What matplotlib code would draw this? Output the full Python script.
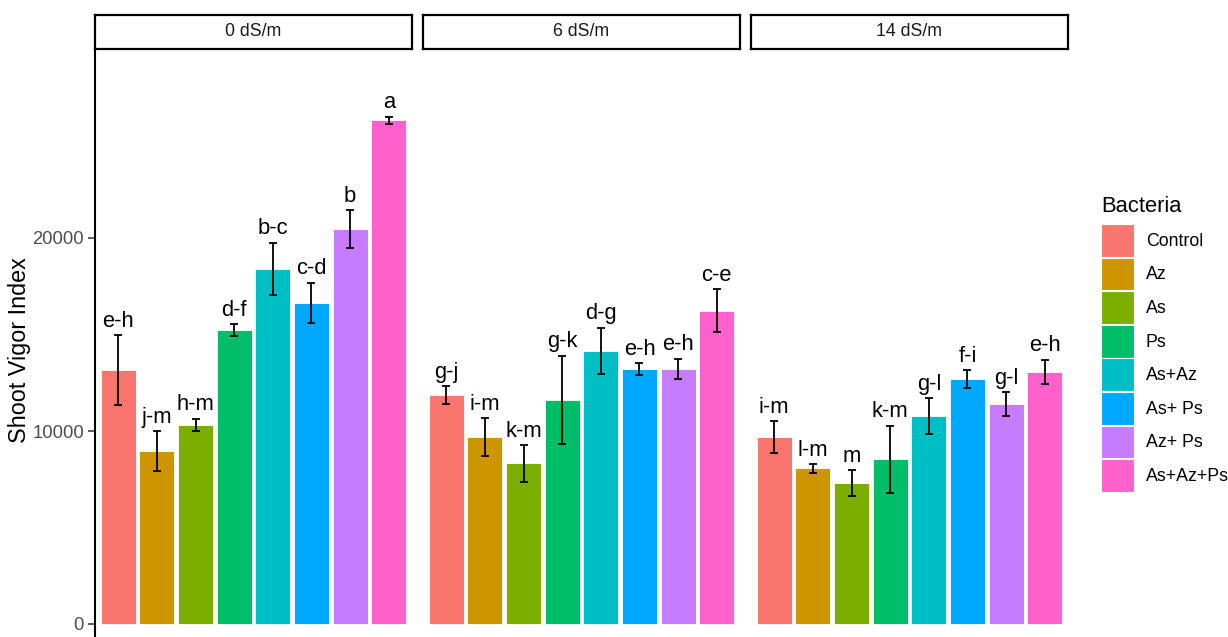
import matplotlib
matplotlib.use("Agg")
import matplotlib.pyplot as plt
from matplotlib.patches import Patch
import numpy as np

plt.rcParams['font.family'] = ['Liberation Sans', 'DejaVu Sans']

categories = ['Control', 'Az', 'As', 'Ps', 'As+Az', 'As+ Ps', 'Az+ Ps', 'As+Az+Ps']
salinity = ['0 dS/m', '6 dS/m', '14 dS/m']

means_0 = [13160, 8950, 10320, 15240, 18400, 16630, 20460, 26100]
se_0 = [1810, 1030, 320, 300, 1350, 1050, 970, 190]
letters_0 = ['e-h', 'j-m', 'h-m', 'd-f', 'b-c', 'c-d', 'b', 'a']

means_6 = [11870, 9680, 8320, 11620, 14150, 13220, 13220, 16230]
se_6 = [470, 980, 950, 2280, 1200, 300, 530, 1120]
letters_6 = ['g-j', 'i-m', 'k-m', 'g-k', 'd-g', 'e-h', 'e-h', 'c-e']

means_14 = [9680, 8060, 7300, 8530, 10760, 12700, 11410, 13070]
se_14 = [840, 220, 680, 1740, 930, 450, 610, 620]
letters_14 = ['i-m', 'l-m', 'm', 'k-m', 'g-l', 'f-i', 'g-l', 'e-h']

colors = ['#F8766D', '#CD9600', '#7CAE00', '#00BE67',
          '#00BFC4', '#00A9FF', '#C77CFF', '#FF61CC']

W, H = 1228, 637
fig = plt.figure(figsize=(W / 100, H / 100), dpi=100)

def px_rect(x0, y0, x1, y1):
    return [x0 / W, 1 - y1 / H, (x1 - x0) / W, (y1 - y0) / H]

panel_left = [95, 423, 751]
panel_w = 317
panel_top = 49
panel_bot = 660
zero_px = 624
px_per_unit = 193 / 10000
ymax = (zero_px - panel_top) / px_per_unit
ymin = -(panel_bot - zero_px) / px_per_unit

all_means = [means_0, means_6, means_14]
all_se = [se_0, se_6, se_14]
all_letters = [letters_0, letters_6, letters_14]

x = np.arange(len(categories))
for i, (lab, m, s, L) in enumerate(zip(salinity, all_means, all_se, all_letters)):
    ax = fig.add_axes(px_rect(panel_left[i], panel_top, panel_left[i] + panel_w, panel_bot))
    ax.bar(x, m, width=0.9, color=colors, edgecolor='white', linewidth=0.6, zorder=2)
    ax.errorbar(x, m, yerr=s, fmt='none', ecolor='black', elinewidth=1.3,
                capsize=2.9, capthick=1.3, zorder=3)
    for xi, mi, si, li in zip(x, m, s, L):
        ax.annotate(li, xy=(xi, mi + si), xytext=(0, 6), textcoords='offset points',
                    ha='center', va='baseline', fontsize=15.8, color='black')
    ax.set_xlim(-0.6, len(categories) - 0.4)
    ax.set_ylim(ymin, ymax)
    ax.set_xticks([])
    for sp in ['top', 'right', 'bottom']:
        ax.spines[sp].set_visible(False)
    if i == 0:
        ax.spines['left'].set_linewidth(1.5)
        ax.set_yticks([0, 10000, 20000])
        ax.tick_params(axis='y', length=5, width=1.1, color='#333333',
                       labelsize=13.3, labelcolor='#4D4D4D', pad=3)
    else:
        ax.spines['left'].set_visible(False)
        ax.set_yticks([])
    sax = fig.add_axes(px_rect(panel_left[i], 15, panel_left[i] + panel_w, 49))
    sax.set_xticks([])
    sax.set_yticks([])
    for sp in sax.spines.values():
        sp.set_linewidth(1.6)
        sp.set_color('black')
    sax.text(0.5, 0.5, lab, ha='center', va='center', fontsize=12.8,
             color='#1A1A1A', transform=sax.transAxes)

fig.text(20 / W, 1 - 350 / H, 'Shoot Vigor Index', rotation=90,
         ha='center', va='center', fontsize=16.8, color='black')

handles = [Patch(facecolor=c, edgecolor='white', linewidth=0.8) for c in colors]
leg = fig.legend(handles, categories, title='Bacteria', loc='upper left',
                 bbox_to_anchor=(1101 / W, 1 - 196 / H), frameon=False,
                 fontsize=12.8, title_fontsize=15.8, handlelength=1.86,
                 handleheight=2.47, labelspacing=0.04, handletextpad=0.66,
                 borderpad=0, borderaxespad=0, alignment='left')
leg._legend_box.sep = 5.0

fig.savefig('out.png', dpi=100)
